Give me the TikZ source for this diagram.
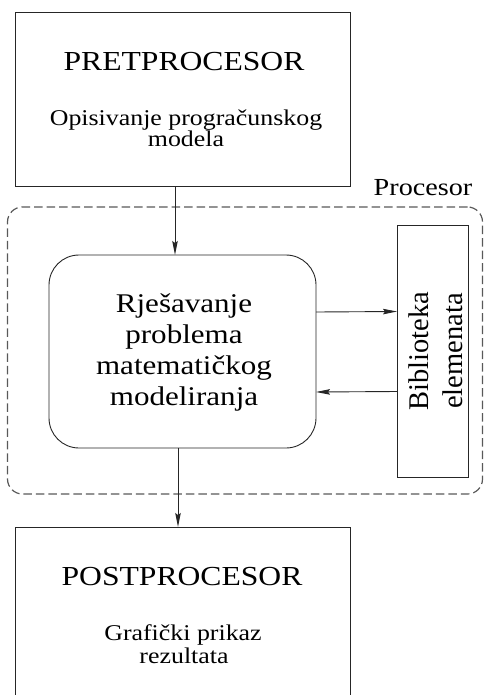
\documentclass[tikz,border=0pt]{standalone}
\usepackage{fontspec}
\usepackage{graphicx}
\setmainfont{Liberation Serif}
\newcommand\wideT[1]{\scalebox{1.15}[1]{#1}}
\usetikzlibrary{arrows.meta}
\tikzset{
  boxline/.style={draw=black!85, line width=0.9pt, inner sep=0pt, outer sep=0pt, anchor=north west},
  arr/.style={draw=black!85, line width=0.9pt, -{Stealth[length=14pt,width=5.5pt,inset=2pt]}},
  bigtxt/.style={anchor=base, inner sep=0pt, font=\fontsize{27.5}{30}\selectfont},
  smalltxt/.style={anchor=base, inner sep=0pt, font=\fontsize{22.5}{24}\selectfont},
  midtxt/.style={anchor=base, inner sep=0pt, font=\fontsize{27}{30}\selectfont},
  rottxt/.style={anchor=base, inner sep=0pt, rotate=90, font=\fontsize{28.5}{30}\selectfont},
}
\begin{document}
\begin{tikzpicture}[x=1pt,y=-1pt]
\useasboundingbox (0,0) rectangle (485,695);
\clip (0,0) rectangle (485,695);
% boxes
\node[boxline, minimum width=335pt, minimum height=174pt] (pre) at (15,12) {};
\node[boxline, draw=black!65, line width=1.2pt, dashed, dash pattern=on 8.5pt off 4pt, rounded corners=15pt, minimum width=475pt, minimum height=287pt] (proc) at (7.5,207) {};
\node[boxline, rounded corners=30pt, minimum width=267pt, minimum height=193pt] (solve) at (49,255) {};
\node[boxline, minimum width=71pt, minimum height=252pt] (bib) at (397,225) {};
\node[boxline, minimum width=335pt, minimum height=220pt] (post) at (15,527) {};
% texts
\node[bigtxt] (preT) at (184,71) {\wideT{PRETPROCESOR}};
\node[smalltxt] (preA) at (186,126) {\wideT{Opisivanje progračunskog}};
\node[smalltxt] (preB) at (186,147) {\wideT{modela}};
\node[anchor=base, inner sep=0pt, font=\fontsize{24.5}{26}\selectfont] (procT) at (423,195) {\wideT{Procesor}};
\node[midtxt] (s1) at (184,312) {\wideT{Rješavanje}};
\node[midtxt] (s2) at (184,343) {\wideT{problema}};
\node[midtxt] (s3) at (184,374) {\wideT{matematičkog}};
\node[midtxt] (s4) at (184,405) {\wideT{modeliranja}};
\node[rottxt] (b1) at (428,351) {Biblioteka};
\node[rottxt] (b2) at (462,351) {elemenata};
\node[bigtxt] (postT) at (182,585) {\wideT{POSTPROCESOR}};
\node[smalltxt] (postA) at (183,640) {\wideT{Grafički prikaz}};
\node[smalltxt] (postB) at (184,663) {\wideT{rezultata}};
% arrows
\draw[arr] ([xshift=-7.5pt]pre.south) -- ([xshift=-7.5pt]solve.north);
\draw[arr] ([xshift=-4.5pt]solve.south) -- ([xshift=-4.5pt]post.north);
\draw[arr] ([yshift=39.5pt]solve.east) -- ([yshift=39.5pt]bib.west);
\draw[arr] ([yshift=-40.5pt]bib.west) -- ([yshift=-40.5pt]solve.east);
\end{tikzpicture}
\end{document}
